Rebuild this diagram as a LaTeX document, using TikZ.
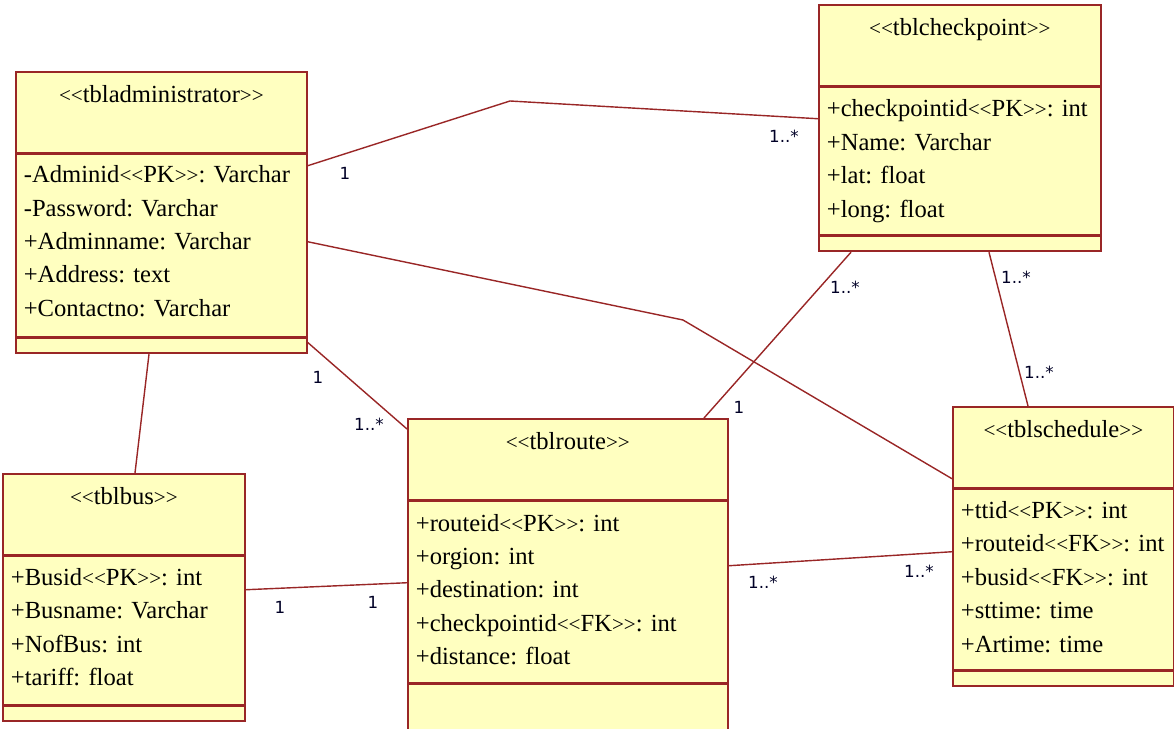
\documentclass[tikz,border=0pt]{standalone}
\usepackage{fontspec}
\setmainfont{Liberation Serif}[Ligatures=TeXOff]
\newfontfamily\multfont{DejaVu Sans}
\usepackage{tikz}
\usetikzlibrary{positioning,calc}
\definecolor{umlline}{RGB}{153,38,38}
\definecolor{umlfill}{RGB}{255,255,192}
\tikzset{
  tblhead/.style={draw=umlline,line width=1pt,fill=umlfill,inner xsep=0pt,inner ysep=0pt,text height=6.2mm,text depth=10mm,font=\fontsize{14}{19}\selectfont},
  tblattr/.style={draw=umlline,line width=1pt,fill=umlfill,align=left,inner xsep=1.6mm,inner ysep=0pt,font=\fontsize{14}{19}\selectfont\frenchspacing},
  tblfoot/.style={draw=umlline,line width=1pt,fill=umlfill,inner sep=0pt,minimum height=3mm},
  assoc/.style={draw=umlline,line width=0.8pt},
  mult/.style={inner sep=0pt,font=\multfont\fontsize{9.5}{11}\selectfont,text=black!85!blue}
}
\newcommand{\stereo}[1]{{\fontsize{12}{12}\selectfont\textless\textless}#1{\fontsize{12}{12}\selectfont\textgreater\textgreater}}

\begin{document}
\begin{tikzpicture}[x=0.02cm,y=-0.02cm]
  \useasboundingbox (0,0) rectangle (1174,729);
  % classes
  \node[tblhead,minimum width=58.2mm,anchor=north west] (admhead) at (15,71) {\stereo{tbladministrator}};
  \node[tblattr,text width=55mm,minimum height=36.4mm,below=0pt of admhead] (admattr) {-Adminid\stereo{PK}: Varchar\\-Password: Varchar\\+Adminname: Varchar\\+Address: text\\+Contactno: Varchar\vspace{5pt}};
  \node[tblfoot,minimum width=58.2mm,below=0pt of admattr] (admfoot) {};

  \node[tblhead,minimum width=56.4mm,anchor=north west] (chkhead) at (818,4) {\stereo{tblcheckpoint}};
  \node[tblattr,text width=53.2mm,minimum height=29.4mm,below=0pt of chkhead] (chkattr) {+checkpointid\stereo{PK}: int\\+Name: Varchar\\+lat: float\\+long: float};
  \node[tblfoot,minimum width=56.4mm,below=0pt of chkattr] (chkfoot) {};

  \node[tblhead,minimum width=44.2mm,anchor=north west] (schhead) at (952,406) {\stereo{tblschedule}};
  \node[tblattr,text width=41mm,minimum height=36mm,below=0pt of schhead] (schattr) {+ttid\stereo{PK}: int\\+routeid\stereo{FK}: int\\+busid\stereo{FK}: int\\+sttime: time\\+Artime: time\vspace{3pt}};
  \node[tblfoot,minimum width=44.2mm,below=0pt of schattr] (schfoot) {};

  \node[tblhead,minimum width=64mm,anchor=north west] (routehead) at (407,418) {\stereo{tblroute}};
  \node[tblattr,text width=60.8mm,minimum height=36.2mm,below=0pt of routehead] (routeattr) {+routeid\stereo{PK}: int\\+orgion: int\\+destination: int\\+checkpointid\stereo{FK}: int\\+distance: float\vspace{3pt}};
  \node[tblfoot,minimum width=64mm,minimum height=9.4mm,below=0pt of routeattr] (routefoot) {};

  \node[tblhead,minimum width=48.4mm,anchor=north west] (bushead) at (2,473) {\stereo{tblbus}};
  \node[tblattr,text width=45.2mm,minimum height=29.6mm,below=0pt of bushead] (busattr) {+Busid\stereo{PK}: int\\+Busname: Varchar\\+NofBus: int\\+tariff: float\vspace{4pt}};
  \node[tblfoot,minimum width=48.4mm,below=0pt of busattr] (busfoot) {};

  % associations
  \coordinate (chkbend) at (510,101);
  \coordinate (schbend) at (683,320);
  \draw[assoc] ($(admattr.north east)+(0,12)$) -- (chkbend) -- ($(chkattr.north west)+(0,32)$);
  \draw[assoc] ($(admattr.north east)+(0,88)$) -- (schbend) -- ($(schhead.south west)+(0,-10)$);
  \draw[assoc] ($(admattr.south east)+(0,5)$) -- ($(routehead.north west)+(0,11)$);
  \draw[assoc] ($(admfoot.south west)+(134,0)$) -- ($(bushead.north west)+(133,0)$);
  \draw[assoc] ($(busattr.north east)+(0,34)$) -- ($(routeattr.north west)+(0,82)$);
  \draw[assoc] ($(routeattr.north east)+(0,65)$) -- ($(schattr.north west)+(0,63)$);
  \draw[assoc] ($(chkfoot.south west)+(33,0)$) -- ($(routehead.north west)+(297,0)$);
  \draw[assoc] ($(chkfoot.south west)+(171,0)$) -- ($(schhead.north west)+(76,0)$);

  % multiplicities
  \node[mult] (m1) at (345,173) {1};
  \node[mult] (m2) at (784,136) {1..*};
  \node[mult] (m3) at (318,377) {1};
  \node[mult] (m4) at (369,424) {1..*};
  \node[mult] (m5) at (280,607) {1};
  \node[mult] (m6) at (373,602) {1};
  \node[mult] (m7) at (763,582) {1..*};
  \node[mult] (m8) at (919,571) {1..*};
  \node[mult] (m9) at (845,287) {1..*};
  \node[mult] (m10) at (739,407) {1};
  \node[mult] (m11) at (1016,277) {1..*};
  \node[mult] (m12) at (1039,372) {1..*};
\end{tikzpicture}
\end{document}
